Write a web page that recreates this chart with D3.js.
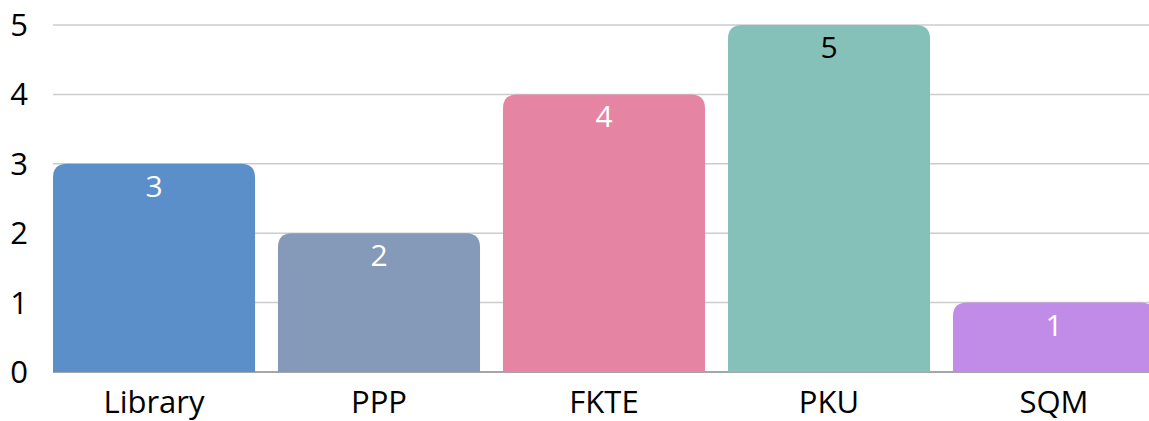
<!DOCTYPE html>
<html><head><meta charset="utf-8">
<script src="https://cdn.jsdelivr.net/npm/d3@7"></script>
<style>body{margin:0;background:#fff;overflow:hidden}svg{display:block}text{font-family:"Open Sans",sans-serif}</style>
</head><body>
<svg id="c" width="1149" height="421"></svg>
<script>
const categories = ["Library","PPP","FKTE","PKU","SQM"];
const values = [3,2,4,5,1];
const colors = ["#5a8fca","#8599b8","#e585a3","#85c1b9","#c08ce8"];
const labelColors = ["#fff","#fff","#fff","#000","#fff"];
const yTicks = [0,1,2,3,4,5];

const svg = d3.select("#c");
const x = d3.scaleBand().domain(categories).range([53,1155]).paddingInner(0.102).paddingOuter(0);
const y = d3.scaleLinear().domain([0,5]).range([372,25]);

svg.append("g").selectAll("line").data(yTicks.slice(1)).join("line")
  .attr("x1",53).attr("x2",1149).attr("y1",d=>y(d)).attr("y2",d=>y(d))
  .attr("stroke","#cccccc").attr("stroke-width",1.5);
svg.append("line").attr("x1",53).attr("x2",1149).attr("y1",y(0)).attr("y2",y(0))
  .attr("stroke","#888").attr("stroke-width",1.5);

const r = 14;
function barPath(x0,w,yt,yb){
  return `M${x0},${yb}V${yt+r}Q${x0},${yt} ${x0+r},${yt}H${x0+w-r}Q${x0+w},${yt} ${x0+w},${yt+r}V${yb}Z`;
}
svg.append("g").selectAll("path").data(categories).join("path")
  .attr("d",(d,i)=>barPath(x(d),x.bandwidth(),y(values[i]),y(0)))
  .attr("fill",(d,i)=>colors[i]);

svg.append("g").selectAll("text").data(categories).join("text")
  .attr("x",d=>x(d)+x.bandwidth()/2).attr("y",(d,i)=>y(values[i])+33)
  .attr("text-anchor","middle").attr("font-size",30).attr("fill",(d,i)=>labelColors[i])
  .text((d,i)=>values[i]);

svg.append("g").selectAll("text").data(yTicks).join("text")
  .attr("x",28).attr("y",d=>y(d)+11).attr("text-anchor","end").attr("font-size",31).attr("fill","#000")
  .text(d=>d);

svg.append("g").selectAll("text").data(categories).join("text")
  .attr("x",d=>x(d)+x.bandwidth()/2).attr("y",413).attr("text-anchor","middle")
  .attr("font-size",31).attr("fill","#000").text(d=>d);
</script>
</body></html>
